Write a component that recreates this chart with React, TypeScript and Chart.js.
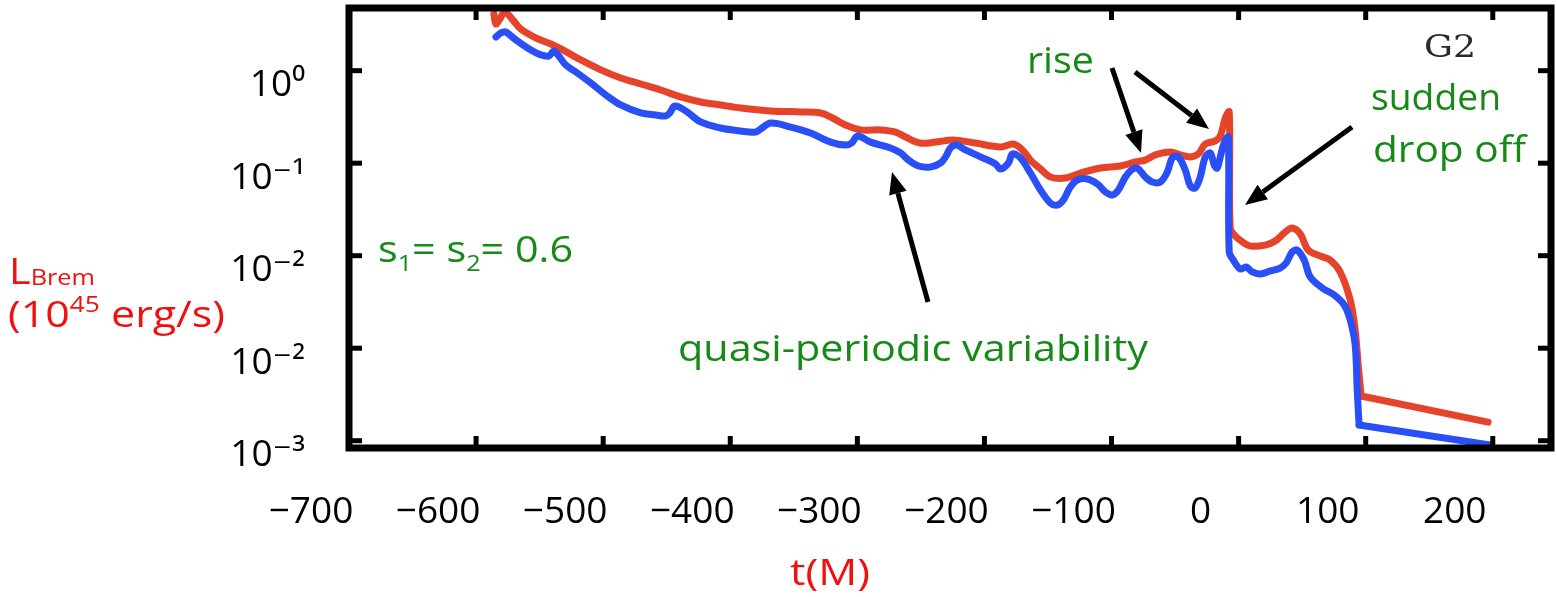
import React, { useEffect, useRef } from "react";
import { Chart, registerables } from "chart.js";

Chart.register(...registerables);

// Bremsstrahlung luminosity light curves (t in M, L in 10^45 erg/s)
const timeRed = [
  -586, -584.4, -581.3, -577.4, -571.1, -564.8, -553, -541.2, -533.3, -517.6, -501.9, -486.2, -470.4,
  -454.7, -439, -423.3, -407.5, -391.8, -368.2, -344.6, -328.9, -319.5, -309.3, -297.5, -281.7, -269.9,
  -262.1, -250.3, -238.5, -225.1, -207.1, -187.4, -177.2, -170.1, -163.8, -155.9, -148.1, -136.3, -124.5,
  -108.8, -93.1, -81.3, -73.4, -65.5, -53.7, -45.9, -38, -31.7, -26.2, -18.4, -14.4, -10.5, -7.4, -6.6,
  -2.6, 2.9, 9.2, 20.9, 28.8, 36.7, 42.2, 48.5, 54.8, 64.2, 72, 79.9, 87.8, 91.7, 94.1, 96.4,
];
const lumRed = [
  4.1, 3.2, 3.62, 4.31, 3.53, 2.82, 2.26, 1.94, 1.72, 1.31, 1.02, 0.834, 0.718, 0.618, 0.52, 0.459, 0.426,
  0.395, 0.367, 0.358, 0.349, 0.308, 0.259, 0.229, 0.229, 0.217, 0.192, 0.165, 0.169, 0.178, 0.165, 0.15,
  0.161, 0.139, 0.108, 0.0865, 0.0709, 0.0692, 0.0783, 0.0887, 0.0933, 0.103, 0.108, 0.123, 0.132, 0.123,
  0.117, 0.126, 0.161, 0.174, 0.197, 0.308, 0.358, 0.0199, 0.0163, 0.0141, 0.0127, 0.013, 0.0144, 0.018,
  0.0199, 0.0172, 0.0115, 0.00993, 0.00899, 0.00667, 0.00332, 0.00157, 0.000658, 0.000304,
];
// late-time power-law tail (straight in log space)
const timeRedTail = [96.4, 196.3];
const lumRedTail = [0.000304, 0.000159];

const timeBlue = [
  -584.4, -580.5, -576.6, -568.7, -556.9, -549.1, -542.8, -538.8, -534.9, -529.4, -521.5, -509.7, -497.9,
  -486.2, -470.4, -458.6, -450.8, -447.6, -443.7, -435, -423.3, -407.5, -391.8, -380, -376.1, -368.2,
  -352.5, -336.8, -321.1, -309.3, -304.5, -299.8, -289.6, -273.9, -266, -259.7, -251.9, -242.4, -234.6,
  -230.6, -226.7, -222, -214.9, -203.1, -191.3, -187.4, -181.1, -178, -171.7, -163.8, -155.9, -148.1,
  -142.6, -137.9, -132.4, -126.9, -119, -111.1, -104.8, -99.3, -94.6, -89.1, -84.4, -79.7, -73.4, -67.9,
  -61.6, -56.1, -52.2, -47.5, -42, -38, -34.1, -30.2, -26.2, -22.3, -19.2, -16.8, -13.7, -10.5, -8.1,
  -7.4, -4.2, 1.3, 6, 10.7, 17, 24.9, 32.7, 37.4, 42.2, 46.1, 51.6, 56.3, 65.8, 75.2, 83.1, 87.8, 91.7,
  93.3, 94.8,
];
const lumBlue = [
  2.31, 2.56, 2.62, 2.15, 1.67, 1.48, 1.44, 1.63, 1.44, 1.15, 0.968, 0.736, 0.546, 0.426, 0.349, 0.332,
  0.324, 0.349, 0.415, 0.367, 0.279, 0.24, 0.223, 0.217, 0.234, 0.272, 0.246, 0.212, 0.169, 0.157, 0.165,
  0.197, 0.169, 0.146, 0.129, 0.108, 0.0933, 0.091, 0.1005, 0.117, 0.146, 0.157, 0.139, 0.117, 0.098,
  0.0865, 0.1005, 0.126, 0.114, 0.0783, 0.0513, 0.0371, 0.0353, 0.04, 0.0553, 0.0658, 0.0675, 0.0596,
  0.0488, 0.0453, 0.0513, 0.0709, 0.0844, 0.0887, 0.0709, 0.0626, 0.0626, 0.0803, 0.114, 0.117, 0.0844,
  0.0567, 0.0539, 0.0709, 0.117, 0.129, 0.0957, 0.0887, 0.129, 0.178, 0.192, 0.011, 0.00899, 0.00718,
  0.00755, 0.00667, 0.00634, 0.00684, 0.00736, 0.00834, 0.011, 0.0115, 0.00899, 0.00589, 0.00448,
  0.00376, 0.00293, 0.00202, 0.00108, 0.000353, 0.000148,
];
const timeBlueTail = [94.8, 197.8];
const lumBlueTail = [0.000148, 0.0000899];

const xTickValues = [-700, -600, -500, -400, -300, -200, -100, 0, 100, 200];
const xTickLabels = ["−700", "−600", "−500", "−400", "−300", "−200", "−100", "0", "100", "200"];
const yTickValues = [1, 0.1, 0.01, 0.001, 0.0001];
const yTickLabels = ["10⁰", "10⁻¹", "10⁻²", "10⁻²", "10⁻³"];

const RED_LINE = "#E5432A";
const BLUE_LINE = "#2A4FF6";
const GREEN = "#168A16";
const LABEL_RED = "#F01010";
const SANS = "'Open Sans', 'DejaVu Sans', sans-serif";

type Seg = { t: string; s?: number; dy?: number };
type Note = { segs: Seg[]; x: number; y: number; w: number; size: number; color: string; family?: string };

const notes: Note[] = [
  { segs: [{ t: "rise" }], x: 1027, y: 73, w: 67, size: 36, color: GREEN },
  { segs: [{ t: "sudden" }], x: 1371, y: 110, w: 130, size: 36, color: GREEN },
  { segs: [{ t: "drop off" }], x: 1373, y: 162, w: 153, size: 36, color: GREEN },
  { segs: [{ t: "G2" }], x: 1424, y: 57, w: 52, size: 31, color: "#2a2a2a", family: "'DejaVu Serif', serif" },
  {
    segs: [{ t: "s" }, { t: "1", s: 0.6, dy: 9 }, { t: "= s" }, { t: "2", s: 0.6, dy: 9 }, { t: "= 0.6" }],
    x: 378, y: 262, w: 195, size: 36, color: GREEN,
  },
  { segs: [{ t: "quasi-periodic variability" }], x: 678, y: 361, w: 470, size: 36, color: GREEN },
  { segs: [{ t: "L" }, { t: "Brem", s: 0.6, dy: 1 }], x: 9, y: 284, w: 86, size: 36, color: LABEL_RED },
  {
    segs: [{ t: "(10" }, { t: "45", s: 0.6, dy: -15 }, { t: " erg/s)" }],
    x: 8, y: 327, w: 217, size: 36, color: LABEL_RED,
  },
  { segs: [{ t: "t(M)" }], x: 790, y: 585, w: 80, size: 36, color: LABEL_RED },
];

// arrows: tail x, tail y, head x, head y
const arrows = [
  [1112, 68, 1141, 153],
  [1135, 72, 1209, 129],
  [1352, 127, 1245, 205],
  [928, 302, 892, 172],
];

function drawNote(ctx: CanvasRenderingContext2D, n: Note) {
  const fam = n.family || SANS;
  const fontFor = (s: Seg) => `${Math.round(n.size * (s.s || 1))}px ${fam}`;
  let total = 0;
  for (const s of n.segs) {
    ctx.font = fontFor(s);
    total += ctx.measureText(s.t).width;
  }
  ctx.save();
  ctx.translate(n.x, n.y);
  ctx.scale(n.w / total, 1);
  ctx.fillStyle = n.color;
  ctx.textAlign = "left";
  ctx.textBaseline = "alphabetic";
  let cx = 0;
  for (const s of n.segs) {
    ctx.font = fontFor(s);
    ctx.fillText(s.t, cx, s.dy || 0);
    cx += ctx.measureText(s.t).width;
  }
  ctx.restore();
}

function drawArrow(ctx: CanvasRenderingContext2D, x1: number, y1: number, x2: number, y2: number) {
  const ang = Math.atan2(y2 - y1, x2 - x1);
  const head = 22;
  const half = 9;
  const bx = x2 - head * Math.cos(ang);
  const by = y2 - head * Math.sin(ang);
  ctx.beginPath();
  ctx.moveTo(x1, y1);
  ctx.lineTo(bx, by);
  ctx.stroke();
  ctx.beginPath();
  ctx.moveTo(x2, y2);
  ctx.lineTo(bx + half * Math.sin(ang), by - half * Math.cos(ang));
  ctx.lineTo(bx - half * Math.sin(ang), by + half * Math.cos(ang));
  ctx.closePath();
  ctx.fill();
}

const framePlugin = {
  id: "frameTicks",
  afterDatasetsDraw(chart: any) {
    const { ctx, chartArea: a, scales } = chart;
    ctx.save();
    ctx.strokeStyle = "#000";
    ctx.lineWidth = 7;
    ctx.strokeRect(a.left, a.top, a.right - a.left, a.bottom - a.top);
    ctx.lineWidth = 5;
    const seg = (x1: number, y1: number, x2: number, y2: number) => {
      ctx.beginPath();
      ctx.moveTo(x1, y1);
      ctx.lineTo(x2, y2);
      ctx.stroke();
    };
    for (const v of xTickValues) {
      const px = scales.x.getPixelForValue(v);
      seg(px, a.bottom, px, a.bottom - 12);
      seg(px, a.top, px, a.top + 12);
    }
    for (const v of yTickValues) {
      const py = scales.y.getPixelForValue(v);
      seg(a.left, py, a.left + 13, py);
      seg(a.right, py, a.right - 13, py);
    }
    ctx.restore();
  },
  afterDraw(chart: any) {
    const ctx: CanvasRenderingContext2D = chart.ctx;
    ctx.save();
    ctx.strokeStyle = "#000";
    ctx.fillStyle = "#000";
    ctx.lineWidth = 5;
    for (const [x1, y1, x2, y2] of arrows) drawArrow(ctx, x1, y1, x2, y2);
    for (const n of notes) drawNote(ctx, n);
    ctx.restore();
  },
};

const pts = (ts: number[], ls: number[]) => ts.map((t, i) => ({ x: t, y: ls[i] }));

export default function App() {
  const ref = useRef<HTMLCanvasElement>(null);

  useEffect(() => {
    const canvas = ref.current;
    if (!canvas) return;
    const lineStyle = {
      borderWidth: 7,
      pointRadius: 0,
      tension: 0.35,
      borderJoinStyle: "round" as const,
      borderCapStyle: "round" as const,
    };
    const chart = new Chart(canvas, {
      type: "line",
      data: {
        datasets: [
          { label: "blue", data: pts(timeBlue, lumBlue), borderColor: BLUE_LINE, order: 0, ...lineStyle },
          {
            label: "blue tail",
            data: pts(timeBlueTail, lumBlueTail),
            borderColor: BLUE_LINE,
            order: 0,
            ...lineStyle,
            tension: 0,
          },
          { label: "red", data: pts(timeRed, lumRed), borderColor: RED_LINE, order: 1, ...lineStyle },
          {
            label: "red tail",
            data: pts(timeRedTail, lumRedTail),
            borderColor: RED_LINE,
            order: 1,
            ...lineStyle,
            tension: 0,
          },
        ],
      },
      options: {
        animation: false,
        responsive: false,
        devicePixelRatio: 1,
        events: [],
        layout: { padding: { left: 0, top: 8, right: 6, bottom: 0 }, autoPadding: false },
        plugins: { legend: { display: false }, tooltip: { enabled: false }, title: { display: false } },
        scales: {
          x: {
            type: "linear",
            min: -700,
            max: 245.8,
            grid: { display: false, drawTicks: false },
            border: { display: false },
            afterBuildTicks: (s: any) => {
              s.ticks = xTickValues.map((v) => ({ value: v }));
            },
            afterFit: (s: any) => {
              s.height = 149;
              s.paddingLeft = 0;
              s.paddingRight = 0;
            },
            ticks: {
              autoSkip: false,
              maxRotation: 0,
              minRotation: 0,
              padding: 42,
              labelOffset: -38,
              color: "#000",
              font: { family: SANS, size: 37 },
              callback: (_v: any, i: number) => xTickLabels[i],
            },
          },
          y: {
            type: "logarithmic",
            min: 8.34e-5,
            max: 4.76,
            grid: { display: false, drawTicks: false },
            border: { display: false },
            afterBuildTicks: (s: any) => {
              s.ticks = yTickValues.map((v) => ({ value: v }));
            },
            afterFit: (s: any) => {
              s.width = 349;
              s.paddingTop = 0;
              s.paddingBottom = 0;
            },
            ticks: {
              autoSkip: false,
              padding: 44,
              labelOffset: 15,
              color: "#000",
              font: { family: SANS, size: 37 },
              callback: (_v: any, i: number) => yTickLabels[i],
            },
          },
        },
      },
      plugins: [framePlugin],
    });
    return () => chart.destroy();
  }, []);

  return (
    <div style={{ position: "absolute", left: 0, top: 0, width: 1557, height: 597, background: "#fff" }}>
      <canvas ref={ref} width={1557} height={597} style={{ display: "block", width: 1557, height: 597 }} />
    </div>
  );
}
